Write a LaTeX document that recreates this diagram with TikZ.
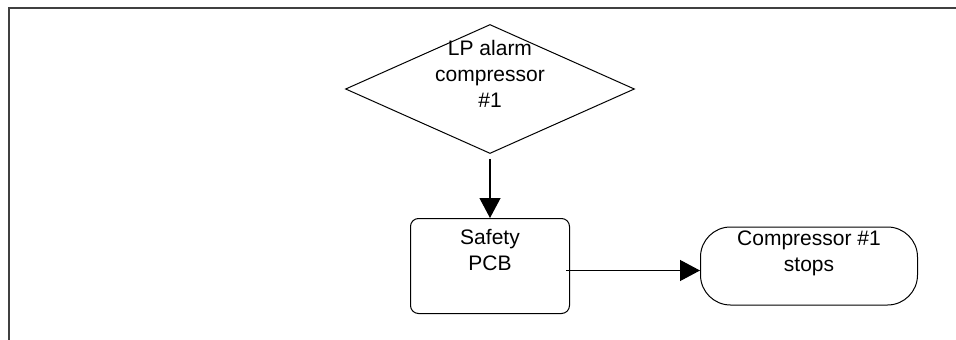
\documentclass[tikz,border=0pt]{standalone}
\usepackage{fontspec}
\setmainfont{Liberation Sans}
\usetikzlibrary{shapes.geometric,arrows.meta,positioning}
\tikzset{
  post/.style     = {-{Triangle[length=20pt,width=21pt]}, line width=1.2pt},
  decision/.style = {draw, diamond, minimum width=289pt, minimum height=129pt, inner sep=0pt, line width=1pt},
  block/.style    = {draw, rectangle, rounded corners=8pt, minimum width=159pt, minimum height=95pt, line width=1pt},
  terminal/.style = {draw, rectangle, rounded corners=30pt, minimum width=217pt, minimum height=78pt, line width=1pt},
  caption/.style  = {align=center, inner sep=0pt, font=\fontsize{21}{26}\selectfont},
  frame/.style    = {draw=black!75, line width=2pt}
}
\begin{document}
\begin{tikzpicture}[x=1pt, y=-1pt]
    \useasboundingbox (0,0) rectangle (956,340);
    \draw[frame] (8.5,340) -- (8.5,7.5) -- (956,7.5);
    \node[decision] (alarm) at (490,89)   {};
    \node[block]    (pcb)   [below=64pt of alarm] {};
    \node[terminal] (stops) [right=130pt of pcb]  {};
    % texts sit in the upper part of each shape
    \node[caption] (alarmtext) at ([yshift=15pt]alarm) {LP alarm\\compressor\\\#1};
    \node[caption] (pcbtext)   at ([yshift=16pt]pcb)   {Safety\\PCB};
    \node[caption] (stopstext) at ([yshift=13pt]stops) {Compressor \#1\\stops};
    \draw[post, shorten <=5pt] (alarm) -- (pcb);
    \draw[post] ([shift={(-4pt,-4.5pt)}]pcb.east) -- ([yshift=-4.5pt]stops.west);
  \end{tikzpicture}
\end{document}
